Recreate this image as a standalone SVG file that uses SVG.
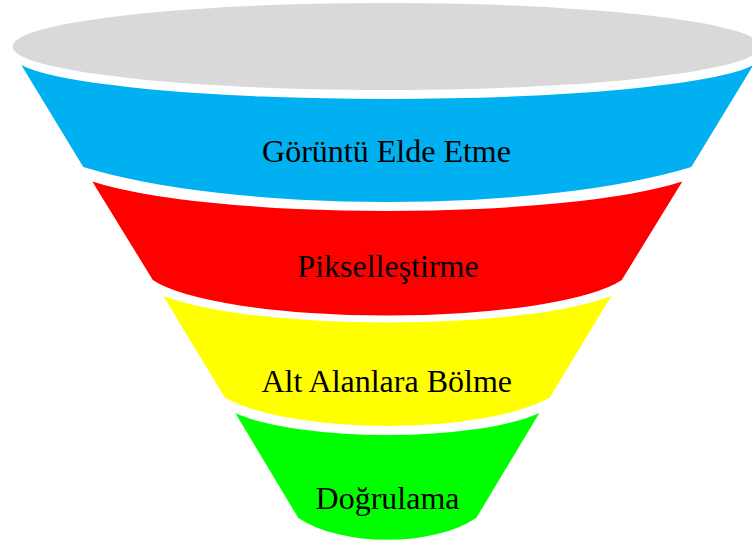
<svg xmlns="http://www.w3.org/2000/svg" width="752" height="545" viewBox="0 0 752 545">
<style>
.lbl{font-family:"Liberation Serif","Times New Roman",serif;font-size:32px;fill:#000;text-anchor:middle}
</style>
<rect x="0" y="0" width="752" height="545" fill="#FFFFFF"/>
<g id="top-rim">
<ellipse cx="386.5" cy="46.5" rx="374" ry="43.5" fill="#D9D9D9"/>
</g>
<g id="node-goruntu">
<path d="M 21.3 65 A 374 42.8 0 0 0 753.3 65 L 691.3 167 A 380 87.5 0 0 1 83.3 167 Z" fill="#00B0F0"/>
<text class="lbl" x="386.5" y="162">Görüntü Elde Etme</text>
</g>
<g id="node-piksel">
<path d="M 92.3 181.5 A 330 53.5 0 0 0 682.3 181.5 L 621.8 280 A 245 50 0 0 1 152.8 280 Z" fill="#FF0000"/>
<text class="lbl" x="388" y="277">Pikselleştirme</text>
</g>
<g id="node-alt">
<path d="M 163.3 296 A 250 47.7 0 0 0 611.3 296 L 549.8 397.5 A 182 51.8 0 0 1 224.8 397.5 Z" fill="#FFFF00"/>
<text class="lbl" x="386.7" y="392">Alt Alanlara Bölme</text>
</g>
<g id="node-dogrulama">
<path d="M 235.3 413 A 170 39.8 0 0 0 539.3 413 L 476.3 518 A 110 53 0 0 1 298.3 518 Z" fill="#00FF00"/>
<text class="lbl" x="387.5" y="509">Doğrulama</text>
</g>
</svg>
